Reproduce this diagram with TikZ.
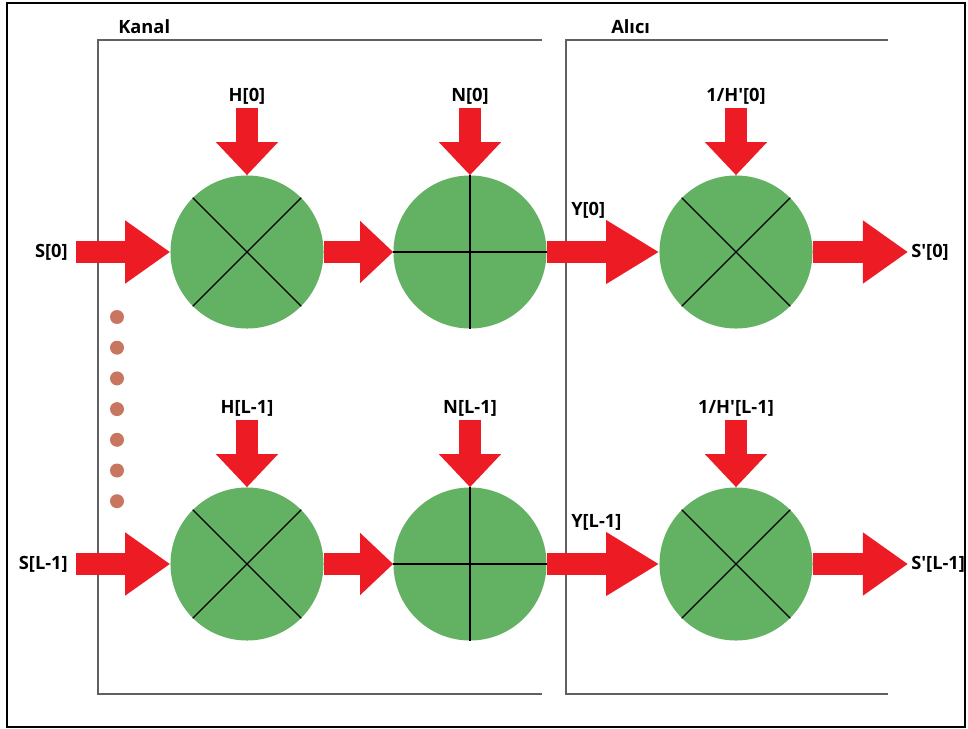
\documentclass[tikz,border=0pt]{standalone}
\usepackage{fontspec}
\setmainfont{Open Sans}[Ligatures=TeXOff]
\usetikzlibrary{calc,arrows.meta,positioning}

\definecolor{arrowred}{RGB}{237,28,36}
\definecolor{opgreen}{RGB}{99,177,99}
\definecolor{dotbrown}{RGB}{200,118,96}

\tikzset{
  opnode/.style={circle, fill=opgreen, minimum size=3.825cm, inner sep=0pt},
  blockarrow/.style={arrowred, line width=0.55cm, -{Triangle[length=#1, width=1.5cm]}},
  blockarrow/.default=1.125cm,
  lbl/.style={font=\bfseries\fontsize{13}{15}\selectfont, inner sep=0pt},
  boxline/.style={draw=gray!75!black, line width=1pt},
}

\begin{document}
\begin{tikzpicture}[x=0.025cm, y=-0.025cm]

\useasboundingbox (0,0) rectangle (968,729);
\draw [line width=1pt] (7,3) rectangle (965,727);

% Kanal and Alici frames
\draw [boxline] (542,40) -- (98,40) -- (98,694) -- (542,694);
\draw [boxline] (888,40) -- (566,40) -- (566,694) -- (888,694);
\node [lbl, anchor=west] (kanal) at (118,27) {Kanal};
\node [lbl, anchor=west] (alici) at (611,27) {Alıcı};

\foreach \r/\y/\idx in {0/252/0, 1/564/L-1} {
    \node [opnode] (mul-\r) at (247,\y) {};
    \node [opnode] (add-\r) at (470,\y) {};
    \node [opnode] (eq-\r) at (736,\y) {};

    \draw [line width=0.8pt] (mul-\r.north west) -- (mul-\r.south east);
    \draw [line width=0.8pt] (mul-\r.north east) -- (mul-\r.south west);
    \draw [line width=0.8pt] (add-\r.west) -- (add-\r.east);
    \draw [line width=0.8pt] (add-\r.north) -- (add-\r.south);
    \draw [line width=0.8pt] (eq-\r.north west) -- (eq-\r.south east);
    \draw [line width=0.8pt] (eq-\r.north east) -- (eq-\r.south west);

    \coordinate (hin-\r) at (247,\y-144);
    \coordinate (nin-\r) at (470,\y-144);
    \coordinate (hinv-\r) at (736,\y-144);
    \coordinate (sin-\r) at (76,\y);
    \coordinate (sout-\r) at (908,\y);

    \node [lbl, anchor=south] (hlab-\r) at ($(hin-\r)+(0,-3)$) {H[\idx]};
    \node [lbl, anchor=south] (nlab-\r) at ($(nin-\r)+(0,-3)$) {N[\idx]};
    \node [lbl, anchor=south] (hinvlab-\r) at ($(hinv-\r)+(0,-3)$) {1/H'[\idx]};
    \node [lbl, anchor=east] (slab-\r) at (68,\y) {S[\idx]};
    \node [lbl, anchor=west] (ylab-\r) at (571,\y-42) {Y[\idx]};
    \node [lbl, anchor=west] (soutlab-\r) at (911,\y) {S'[\idx]};

    \draw [blockarrow=0.825cm] (hin-\r) -- (mul-\r.north);
    \draw [blockarrow=0.825cm] (nin-\r) -- (add-\r.north);
    \draw [blockarrow=0.825cm] (hinv-\r) -- (eq-\r.north);
    \draw [blockarrow] (sin-\r) -- (mul-\r.west);
    \draw [blockarrow=0.825cm] (mul-\r) -- (add-\r);
    \draw [blockarrow=1.325cm] (add-\r) -- (eq-\r);
    \draw [blockarrow] (eq-\r) -- (sout-\r);
}

% dots between the rows
\foreach \k in {0,...,6} {
    \fill [dotbrown] (117,317+30.7*\k) circle (7);
}

\end{tikzpicture}
\end{document}
